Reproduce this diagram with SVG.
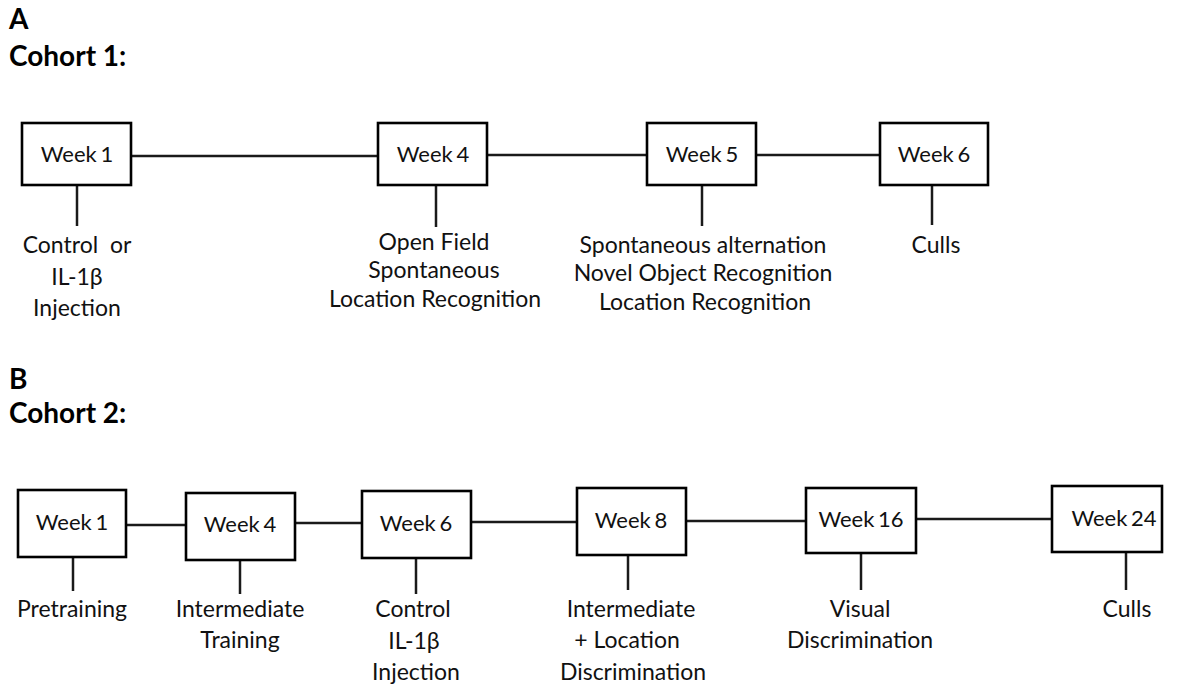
<svg xmlns="http://www.w3.org/2000/svg" width="1184" height="686" viewBox="0 0 1184 686">
<style>
.bg{fill:#fff}
.box{fill:#fff;stroke:#000;stroke-width:2.6}
.ln{stroke:#1a1a1a;stroke-width:2.5;fill:none}
.wk{font-family:Lato,"Liberation Sans",sans-serif;font-size:22px;fill:#111;text-anchor:middle;word-spacing:-2px}
.lb{font-family:Lato,"Liberation Sans",sans-serif;font-size:23px;fill:#111;text-anchor:middle}
.hd{font-family:Lato,"Liberation Sans",sans-serif;font-size:28px;font-weight:bold;fill:#000}
</style>
<rect class="bg" x="0" y="0" width="1184" height="686"/>
<text class="hd" x="9" y="29">A</text>
<text class="hd" x="9" y="66">Cohort 1:</text>
<text class="hd" x="9" y="389">B</text>
<text class="hd" x="9" y="423">Cohort 2:</text>
<g id="connectors">
<line class="ln" x1="131" y1="156" x2="378" y2="156"/>
<line class="ln" x1="487" y1="155" x2="647" y2="155"/>
<line class="ln" x1="756" y1="155" x2="880" y2="155"/>
<line class="ln" x1="77" y1="185" x2="77" y2="226"/>
<line class="ln" x1="436" y1="185" x2="436" y2="227"/>
<line class="ln" x1="702" y1="185" x2="702" y2="226"/>
<line class="ln" x1="932" y1="185" x2="932" y2="225"/>
<line class="ln" x1="126" y1="525" x2="186" y2="525"/>
<line class="ln" x1="295" y1="523" x2="362" y2="523"/>
<line class="ln" x1="471" y1="522" x2="577" y2="522"/>
<line class="ln" x1="686" y1="521" x2="806" y2="521"/>
<line class="ln" x1="916" y1="519" x2="1052" y2="519"/>
<line class="ln" x1="73" y1="557" x2="73" y2="591"/>
<line class="ln" x1="240" y1="560" x2="240" y2="594"/>
<line class="ln" x1="416" y1="558" x2="416" y2="594"/>
<line class="ln" x1="628" y1="555" x2="628" y2="590"/>
<line class="ln" x1="861" y1="553" x2="861" y2="590"/>
<line class="ln" x1="1126" y1="552" x2="1126" y2="590"/>
</g>
<g id="c1w1"><rect class="box" x="22" y="123" width="109" height="62"/><text class="wk" x="77" y="162">Week 1</text>
<text class="lb" x="77" y="253" xml:space="preserve">Control  or</text><text class="lb" x="77" y="285">IL-1β</text><text class="lb" x="77" y="316">Injection</text></g>
<g id="c1w4"><rect class="box" x="378" y="123" width="109" height="62"/><text class="wk" x="433" y="162">Week 4</text>
<text class="lb" x="434" y="250">Open Field</text><text class="lb" x="434" y="278">Spontaneous</text><text class="lb" x="435" y="307">Location Recognition</text></g>
<g id="c1w5"><rect class="box" x="647" y="123" width="109" height="62"/><text class="wk" x="702" y="162">Week 5</text>
<text class="lb" x="703" y="253">Spontaneous alternation</text><text class="lb" x="703" y="281">Novel Object Recognition</text><text class="lb" x="705" y="310">Location Recognition</text></g>
<g id="c1w6"><rect class="box" x="880" y="123" width="108" height="62"/><text class="wk" x="934" y="162">Week 6</text>
<text class="lb" x="936" y="253">Culls</text></g>
<g id="c2w1"><rect class="box" x="18" y="490" width="108" height="67"/><text class="wk" x="72" y="530">Week 1</text>
<text class="lb" x="72" y="617">Pretraining</text></g>
<g id="c2w4"><rect class="box" x="186" y="493" width="109" height="67"/><text class="wk" x="240" y="532">Week 4</text>
<text class="lb" x="240" y="617">Intermediate</text><text class="lb" x="240" y="648">Training</text></g>
<g id="c2w6"><rect class="box" x="362" y="491" width="109" height="67"/><text class="wk" x="416" y="531">Week 6</text>
<text class="lb" x="413" y="617">Control</text><text class="lb" x="414" y="649">IL-1β</text><text class="lb" x="416" y="680">Injection</text></g>
<g id="c2w8"><rect class="box" x="577" y="488" width="109" height="67"/><text class="wk" x="631" y="528">Week 8</text>
<text class="lb" x="631" y="617">Intermediate</text><text class="lb" x="627" y="648">+ Location</text><text class="lb" x="633" y="680">Discrimination</text></g>
<g id="c2w16"><rect class="box" x="806" y="488" width="110" height="65"/><text class="wk" x="861" y="527">Week 16</text>
<text class="lb" x="860" y="617">Visual</text><text class="lb" x="860" y="648">Discrimination</text></g>
<g id="c2w24"><rect class="box" x="1052" y="486" width="110" height="66"/><text class="wk" x="1114" y="526">Week 24</text>
<text class="lb" x="1127" y="617">Culls</text></g>
</svg>
